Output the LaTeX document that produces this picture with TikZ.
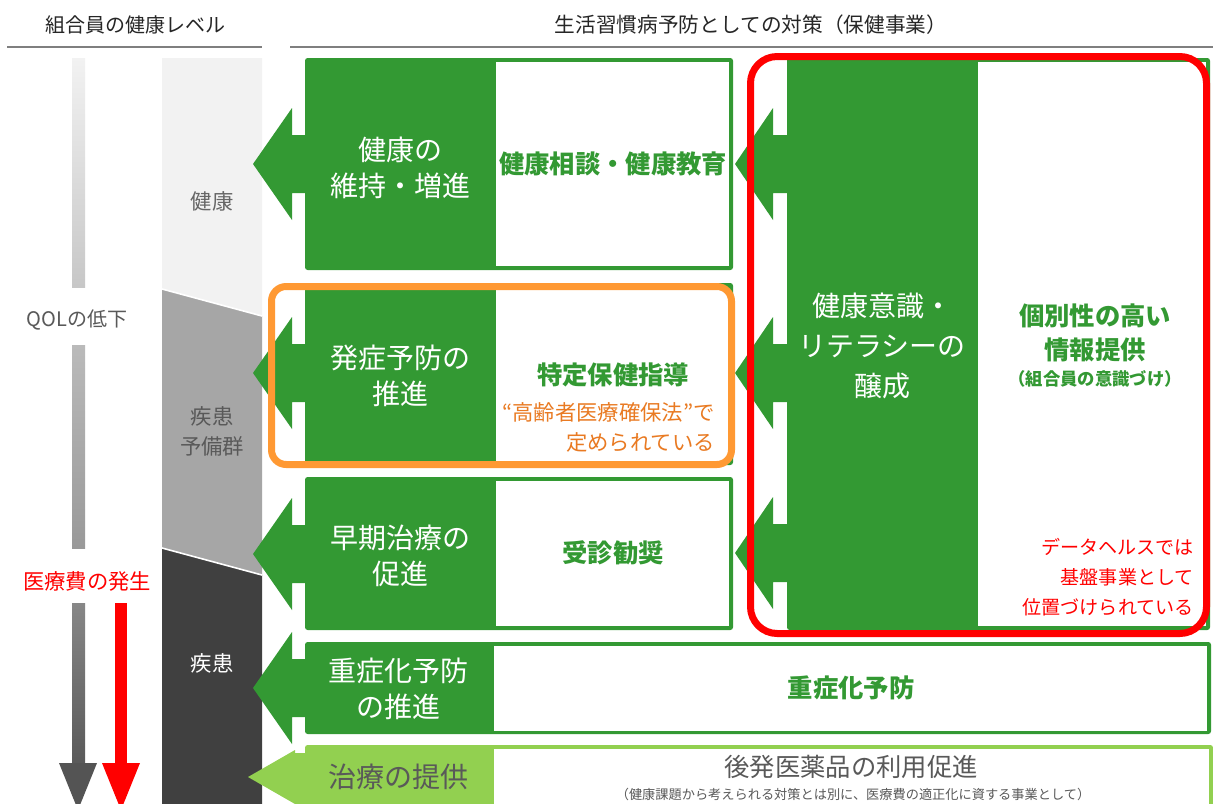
\documentclass[tikz,border=0pt]{standalone}
\usepackage{fontspec}
\setmainfont{Noto Sans CJK JP}
\definecolor{dg}{HTML}{339933}
\definecolor{lg}{HTML}{92D050}
\definecolor{org}{HTML}{FF9933}
\definecolor{orgtxt}{HTML}{E97A22}
\definecolor{tgray}{HTML}{595959}
\definecolor{lgray}{HTML}{666666}
\definecolor{hline}{HTML}{7F7F7F}
\definecolor{cHealth}{HTML}{F2F2F2}
\definecolor{cPre}{HTML}{A6A6A6}
\definecolor{cDis}{HTML}{404040}
\definecolor{redc}{HTML}{FF0000}
\newcommand\blockarrow[5]{%
  \fill[#1] (#2,#3) -- (#4,#3-56) -- (#4,#3-29) -- (#5,#3-29) -- (#5,#3+29) -- (#4,#3+29) -- (#4,#3+56) -- cycle;}
\tikzset{
  wt/.style={text=white, align=center, inner sep=0pt, font=\fontsize{21}{27}\selectfont},
  gb/.style={text=dg, align=center, inner sep=0pt, font=\bfseries\fontsize{19}{25.5}\selectfont},
  hdr/.style={text=black!85, inner sep=0pt, font=\fontsize{15}{18}\selectfont},
  lvl/.style={align=center, inner sep=0pt, font=\fontsize{16}{22.5}\selectfont},
  redt/.style={text=redc, align=right, inner sep=0pt, font=\fontsize{14.3}{22.5}\selectfont},
}
\begin{document}
\begin{tikzpicture}[x=0.75pt,y=-0.75pt]
\useasboundingbox (0,0) rectangle (1213,803);
\fill[white] (0,0) rectangle (1213,803);

% headers
\node[hdr] (hL) at (135,25) {組合員の健康レベル};
\node[hdr, font=\fontsize{15.5}{18}\selectfont] (hR) at (751,25) {生活習慣病予防としての対策（保健事業）};
\draw[hline, line width=1.2pt] (7,47) -- (262,47);
\draw[hline, line width=1.2pt] (290,47) -- (1213,47);

% QOL bar
\shade[top color=cHealth, bottom color=black!22] (72,58) rectangle (85,287);
\shade[top color=black!27, bottom color=black!40] (72,345) rectangle (85,548);
\shade[top color=black!47, bottom color=black!65] (72,603) rectangle (85,764);
\fill[black!67] (59,763) -- (97,763) -- (78,810) -- cycle;
\fill[redc] (115,603) rectangle (127,764);
\fill[redc] (102,763) -- (140,763) -- (121,810) -- cycle;
\node[lvl, text=tgray, font=\fontsize{15}{18}\selectfont] (qol) at (77,320) {QOLの低下};
\node[lvl, text=redc] (cost) at (87,581) {医療費の発生};

% health level column
\fill[cHealth] (162,58) -- (262,58) -- (262,316) -- (162,289) -- cycle;
\fill[cPre] (162,289) -- (262,316) -- (262,575) -- (162,548) -- cycle;
\fill[cDis] (162,548) -- (262,575) -- (262,810) -- (162,810) -- cycle;
\draw[white, line width=1.2pt] (162,289) -- (262,316);
\draw[white, line width=1.2pt] (162,548) -- (262,575);
\node[lvl, text=lgray] (lv1) at (212,201) {健康};
\node[lvl, text=tgray] (lv2) at (212,431) {疾患\\予備群};
\node[lvl, text=white] (lv3) at (212,663) {疾患};

% row 1
\fill[dg, rounded corners=2] (305,58) rectangle (733,270);
\fill[white] (496,62) rectangle (729,266);
\blockarrow{dg}{253}{164}{292}{306}
% row 2
\fill[dg, rounded corners=2] (305,283) rectangle (733,465);
\fill[white] (496,290) rectangle (729,461);
\blockarrow{dg}{253}{373}{292}{306}
% row 3
\fill[dg, rounded corners=2] (305,477) rectangle (733,630);
\fill[white] (496,481) rectangle (729,626);
\blockarrow{dg}{253}{554}{292}{306}
% row 4
\fill[dg, rounded corners=2] (305,642) rectangle (1211,734);
\fill[white] (494,646) rectangle (1207,731);
\blockarrow{dg}{253}{688}{292}{306}
% row 5
\fill[lg, rounded corners=2] (305,745) rectangle (1213,812);
\fill[white] (494,749) rectangle (1209,812);
\fill[lg] (248,777) -- (295,750) -- (295,753) -- (306,753) -- (306,812) -- (295,812) -- (295,804) -- cycle;

% big right block
\fill[dg, rounded corners=2] (787,58) rectangle (1210,630);
\fill[white] (978,62) rectangle (1206,626);
\blockarrow{dg}{735}{164}{773}{788}
\blockarrow{dg}{735}{373}{773}{788}
\blockarrow{dg}{735}{553}{773}{788}

% frames
\draw[org, line width=5.25pt, rounded corners=11] (271.5,286.5) rectangle (731.5,464.5);
\draw[redc, line width=5.25pt, rounded corners=20] (750.5,56.5) rectangle (1206.5,633.5);

% row texts
\node[wt] (r1a) at (400,168) {健康の\\維持・増進};
\node[gb] (r1b) at (613,164) {健康相談・健康教育};
\node[wt] (r2a) at (400,376) {発症予防の\\推進};
\node[gb] (r2b) at (613,375) {特定保健指導};
\node[anchor=east, text=orgtxt, align=right, inner sep=0pt, font=\fontsize{16}{22.5}\selectfont] (r2c) at (715,427) {“高齢者医療確保法”で\\定められている};
\node[wt] (r3a) at (400,556) {早期治療の\\促進};
\node[gb] (r3b) at (613,553) {受診勧奨};
\node[wt] (r4a) at (398,689) {重症化予防\\の推進};
\node[gb] (r4b) at (851,688) {重症化予防};
\node[wt, text=tgray] (r5a) at (398,777) {治療の提供};
\node[text=tgray, inner sep=0pt, font=\fontsize{19}{22}\selectfont] (r5b) at (851,767) {後発医薬品の利用促進};
\node[text=tgray, inner sep=0pt, font=\fontsize{9.9}{11}\selectfont] (r5c) at (853,794) {（健康課題から考えられる対策とは別に、医療費の適正化に資する事業として）};

% right block texts
\node[wt, font=\fontsize{21}{30}\selectfont] (k1) at (882,346) {健康意識・\\リテラシーの\\醸成};
\node[gb] (k2) at (1095,333) {個別性の高い\\情報提供};
\node[gb, font=\bfseries\fontsize{13}{14}\selectfont] (k3) at (1095,379) {（組合員の意識づけ）};
\node[redt, anchor=east] (k4) at (1194,577) {データヘルスでは\\基盤事業として\\位置づけられている};
\end{tikzpicture}
\end{document}
